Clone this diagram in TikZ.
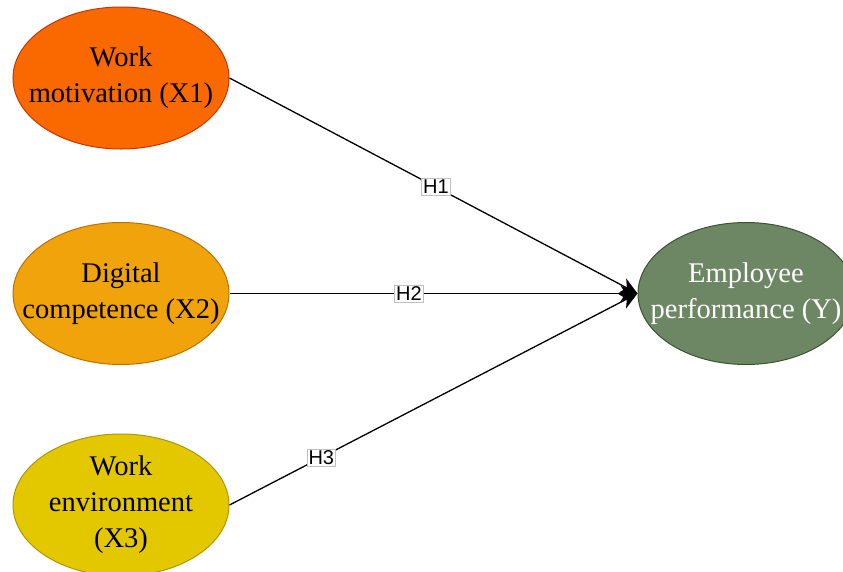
\documentclass[tikz,border=0pt]{standalone}
\usepackage{fontspec}
\setmainfont{Liberation Serif}
\newfontfamily\labelfont{Liberation Sans}
\usepackage{tikz}
\usetikzlibrary{shapes.geometric, arrows.meta}

\definecolor{motivfill}{HTML}{FA6800}
\definecolor{motivline}{HTML}{C73500}
\definecolor{digifill}{HTML}{F0A30A}
\definecolor{digiline}{HTML}{BD7000}
\definecolor{envfill}{HTML}{E3C800}
\definecolor{envline}{HTML}{B09500}
\definecolor{perffill}{HTML}{6D8764}
\definecolor{perfline}{HTML}{3A5431}

\begin{document}
\begin{tikzpicture}[x=1pt, y=-1pt,
    construct/.style={ellipse, draw, line width=1pt, minimum width=216pt, minimum height=142pt,
        inner xsep=-50pt, inner ysep=-8pt, align=center, font=\fontsize{28.5}{36}\selectfont},
    path/.style={line width=1.3pt, -{Stealth[length=17pt, width=16pt, inset=5pt]}},
    hlabel/.style={draw=gray!50, fill=white, inner sep=1.5pt, line width=0.6pt,
        font=\labelfont\fontsize{20}{22}\selectfont}]
                \useasboundingbox (0,0) rectangle (843,571);

                % the three predictors
                \node[construct, fill=motivfill, draw=motivline] (x1) at (121,78) {Work\\motivation (X1)};
                \node[construct, fill=digifill, draw=digiline] (x2) at (121,293.5) {Digital\\competence (X2)};
                \node[construct, fill=envfill, draw=envline] (x3) at (121,505) {Work\\environment\\(X3)};

                % outcome
                \node[construct, fill=perffill, draw=perfline, text=white] (y) at (746,293.5) {Employee\\performance (Y)};

                % hypotheses
                \draw[path] (x1.east) -- node[pos=0.506, hlabel] {H1} (y.west);
                \draw[path] (x2.east) -- node[pos=0.44, hlabel] {H2} (y.west);
                \draw[path] (x3.east) -- node[pos=0.225, hlabel] {H3} (y.west);
            \end{tikzpicture}
\end{document}
